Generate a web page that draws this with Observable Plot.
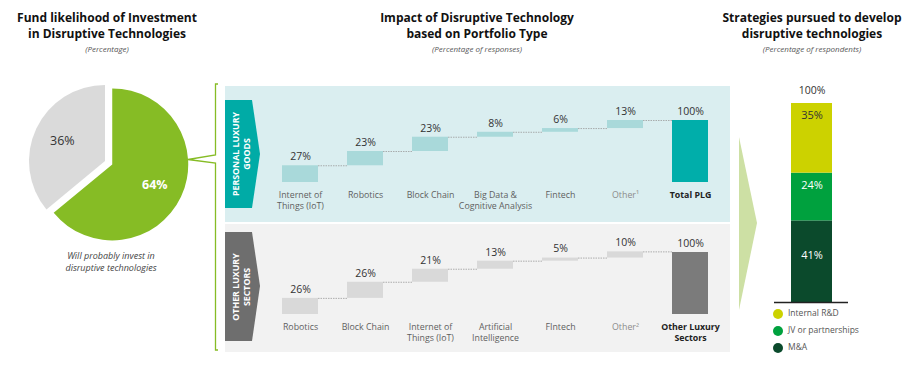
<!DOCTYPE html>
<html><head><meta charset="utf-8">
<script src="https://cdn.jsdelivr.net/npm/d3@7"></script>
<script src="https://cdn.jsdelivr.net/npm/@observablehq/plot@0.6"></script>
<style>
body{margin:0;background:#fff;font-family:"Open Sans",sans-serif;}
#root{position:relative;width:918px;height:369px;overflow:hidden;background:#fff;}
.title{position:absolute;font-weight:700;font-size:12px;line-height:15.5px;color:#111;text-align:center;transform:translateX(-50%);white-space:nowrap;}
.sub{position:absolute;font-style:italic;font-size:8px;line-height:10px;color:#555;transform:translateX(-50%);white-space:nowrap;}
.cap{position:absolute;font-style:italic;font-size:9px;line-height:12px;color:#444;text-align:center;transform:translateX(-50%);white-space:nowrap;}
.leg{position:absolute;left:773px;font-size:8.5px;color:#555;line-height:12px;white-space:nowrap;}
.leg span{display:inline-block;width:10px;height:10px;border-radius:50%;vertical-align:middle;margin-right:5px;}
</style></head>
<body><div id="root">
<svg id="deco" width="918" height="369" style="position:absolute;left:0;top:0">
  <rect x="225" y="86" width="505" height="136" fill="#daeef0"/>
  <rect x="225" y="224" width="505" height="128" fill="#f2f2f2"/>
  <polygon points="225,100 252,100 260,154 252,208 225,208" fill="#00aba6"/>
  <polygon points="225,232 252,232 260,286 252,341 225,341" fill="#6e6e6e"/>
  <g font-family="Open Sans" font-weight="700" font-size="8.8px" fill="#fff" text-anchor="middle">
    <text transform="translate(235.5,154) rotate(-90)" dy="0.35em">PERSONAL LUXURY</text>
    <text transform="translate(246.5,154) rotate(-90)" dy="0.35em">GOODS</text>
    <text transform="translate(235.5,287) rotate(-90)" dy="0.35em">OTHER LUXURY</text>
    <text transform="translate(246.5,287) rotate(-90)" dy="0.35em">SECTORS</text>
  </g>
  <path d="M218,84 L215.5,84 L215.5,155 L188,159.5 L215.5,163 L215.5,350 L218,350" fill="none" stroke="#86bc25" stroke-width="1.3"/>
  <polygon points="739,137 757,223 739,310" fill="#cde0a4"/>
</svg>
<div class="title" style="left:107px;top:10px">Fund likelihood of Investment<br>in Disruptive Technologies</div>
<div class="sub" style="left:107px;top:44px">(Percentage)</div>
<div class="title" style="left:477px;top:10px">Impact of Disruptive Technology<br>based on Portfolio Type</div>
<div class="sub" style="left:477px;top:44px">(Percentage of responses)</div>
<div class="title" style="left:812px;top:10px">Strategies pursued to develop<br>disruptive technologies</div>
<div class="sub" style="left:812px;top:44px">(Percentage of respondents)</div>
<div class="cap" style="left:111px;top:250px">Will probably invest in<br>disruptive technologies</div>
</div>
<script>
// ---- data ----
const pieLabels = ["Will probably invest in disruptive technologies", "Other"];
const pieValues = [64, 36];

const plgCategories = ["Internet of\nThings (IoT)", "Robotics", "Block Chain", "Big Data &\nCognitive Analysis", "Fintech", "Other¹"];
const plgValues = [27, 23, 23, 8, 6, 13];
const plgTotalLabel = "Total PLG";
const plgTotal = 100;

const olsCategories = ["Robotics", "Block Chain", "Internet of\nThings (IoT)", "Artificial\nIntelligence", "FIntech", "Other²"];
const olsValues = [26, 26, 21, 13, 5, 10];
const olsTotalLabel = "Other Luxury\nSectors";
const olsTotal = 100;

const strategyNames = ["M&A", "JV or partnerships", "Internal R&D"];
const strategyValues = [41, 24, 35];
const strategyTotal = 100;

// ---- helpers ----
const root = document.getElementById("root");
const plotStyle = {background: "transparent", overflow: "visible", fontFamily: "'Open Sans', sans-serif"};
function place(node, left, top, w, h) {
  const d = document.createElement("div");
  d.style.cssText = `position:absolute;left:${left}px;top:${top}px;width:${w}px;height:${h}px;`;
  d.appendChild(node);
  root.appendChild(d);
}

// ---- pie ----
const pieColors = ["#86bc25", "#dadada"];
const pieData = pieValues.map((v, i) => ({label: pieLabels[i], value: v}));
const R = 76, CX = 105, CY = 91, explode = 8;
const pie = Plot.plot({
  width: 200, height: 190, margin: 0, style: plotStyle,
  marks: [
    () => {
      const g = d3.create("svg:g");
      const arcs = d3.pie().sort(null).value(d => d.value)(pieData);
      const arc = d3.arc().innerRadius(0).outerRadius(R);
      arcs.forEach((a, i) => {
        const mid = (a.startAngle + a.endAngle) / 2;
        const off = i === 0 ? explode : 0;
        const cx = CX + off * Math.sin(mid), cy = CY - off * Math.cos(mid);
        g.append("path").attr("d", arc(a)).attr("transform", `translate(${cx},${cy})`).attr("fill", pieColors[i]);
        const lr = R * 0.62;
        g.append("text")
          .attr("x", cx + lr * Math.sin(mid)).attr("y", cy - lr * Math.cos(mid))
          .attr("text-anchor", "middle").attr("dy", "0.35em")
          .attr("font-size", "12.5px").attr("font-weight", i === 0 ? 700 : 400)
          .attr("fill", i === 0 ? "#fff" : "#333")
          .text(a.data.value + "%");
      });
      return g.node();
    }
  ]
});
place(pie, 0, 70, 200, 190);

// ---- waterfalls ----
function waterfall({cats, vals, totalLabel, total, stepFill, totalFill, height, marginTop, marginBottom}) {
  let acc = 0;
  const rows = cats.map((c, i) => { const r = {cat: c, y1: acc, y2: acc + vals[i], v: vals[i]}; acc += vals[i]; return r; });
  const totalRow = {cat: totalLabel, y1: 0, y2: total, v: total};
  const all = [...rows, totalRow];
  const links = rows.map((d, i) => ({a: d.cat, b: all[i + 1].cat, y: d.y2}));
  const n = all.length, pad = 0.45, r0 = 25.5, r1 = 513.5;
  const bw = (r1 - r0) / (n - pad + 2 * pad) * (1 - pad);
  const isOther = d => d.cat.startsWith("Other");
  return Plot.plot({
    width: 540, height, marginTop, marginBottom, marginLeft: 0, marginRight: 0,
    style: plotStyle,
    x: {domain: all.map(d => d.cat), range: [r0, r1], padding: pad, axis: null},
    y: {domain: [0, 100], axis: null},
    marks: [
      Plot.ruleY(links, {x1: "a", x2: "b", y: "y", insetLeft: bw, insetRight: bw, stroke: "#9b9b9b", strokeWidth: 0.8, strokeDasharray: "1.5,1"}),
      Plot.barY(rows, {x: "cat", y1: "y1", y2: "y2", fill: stepFill}),
      Plot.barY([totalRow], {x: "cat", y1: "y1", y2: "y2", fill: totalFill}),
      Plot.text(all, {x: "cat", y: "y2", text: d => d.v + "%", dy: -9, fontSize: 10.5, fill: "#333"}),
      Plot.text(rows.filter(d => !isOther(d)), {x: "cat", y: 0, text: "cat", lineAnchor: "top", dy: 7.5, fontSize: 8.8, lineHeight: 1.27, fill: "#5f5f5f"}),
      Plot.text(rows.filter(isOther), {x: "cat", y: 0, text: "cat", lineAnchor: "top", dy: 7.5, fontSize: 8.8, lineHeight: 1.27, fill: "#8c8c8c"}),
      Plot.text([totalRow], {x: "cat", y: 0, text: "cat", lineAnchor: "top", dy: 7.5, fontSize: 8.8, lineHeight: 1.27, fontWeight: 700, fill: "#222"})
    ]
  });
}
place(waterfall({cats: plgCategories, vals: plgValues, totalLabel: plgTotalLabel, total: plgTotal,
  stepFill: "#a9d9da", totalFill: "#00aeaa", height: 127, marginTop: 34, marginBottom: 31}), 225, 86, 540, 127);
place(waterfall({cats: olsCategories, vals: olsValues, totalLabel: olsTotalLabel, total: olsTotal,
  stepFill: "#d9d9d9", totalFill: "#7b7b7b", height: 128, marginTop: 28, marginBottom: 38}), 225, 224, 540, 128);

// ---- stacked bar ----
const stratColors = {"M&A": "#0b4a2c", "JV or partnerships": "#00a13e", "Internal R&D": "#ccd200"};
let acc2 = 0;
const segs = strategyNames.map((s, i) => { const r = {s, v: strategyValues[i], y1: acc2, y2: acc2 + strategyValues[i], x: "all"}; acc2 += strategyValues[i]; return r; });
const stack = Plot.plot({
  width: 150, height: 240, marginTop: 23, marginBottom: 18, marginLeft: 14, marginRight: 62,
  style: plotStyle,
  x: {domain: ["all"], range: [31, 72], padding: 0, axis: null},
  y: {domain: [0, 100], axis: null},
  marks: [
    ...segs.map(d => Plot.barY([d], {x: "x", y1: "y1", y2: "y2", fill: stratColors[d.s]})),
    Plot.ruleY([0], {stroke: "#222", strokeWidth: 1.5}),
    Plot.text(segs.filter(d => d.s !== "M&A"), {x: "x", y: "y2", text: d => d.v + "%", dy: 12, fontSize: 11,
      fill: d => d.s === "Internal R&D" ? "#333" : "#fff"}),
    Plot.text(segs.filter(d => d.s === "M&A"), {x: "x", y: d => (d.y1 + d.y2) / 2, text: d => d.v + "%", dy: -6, fontSize: 11, fill: "#fff"}),
    Plot.text([strategyTotal], {x: () => "all", y: d => d, text: d => d + "%", dy: -13, fontSize: 10.5, fill: "#333"})
  ]
});
place(stack, 760, 80, 150, 240);

// ---- legend ----
["Internal R&D", "JV or partnerships", "M&A"].forEach((s, i) => {
  const d = document.createElement("div");
  d.className = "leg";
  d.style.top = (307 + i * 17) + "px";
  d.innerHTML = `<span style="background:${stratColors[s]}"></span>${s.replace("&", "&amp;")}`;
  root.appendChild(d);
});
</script>
</body></html>
